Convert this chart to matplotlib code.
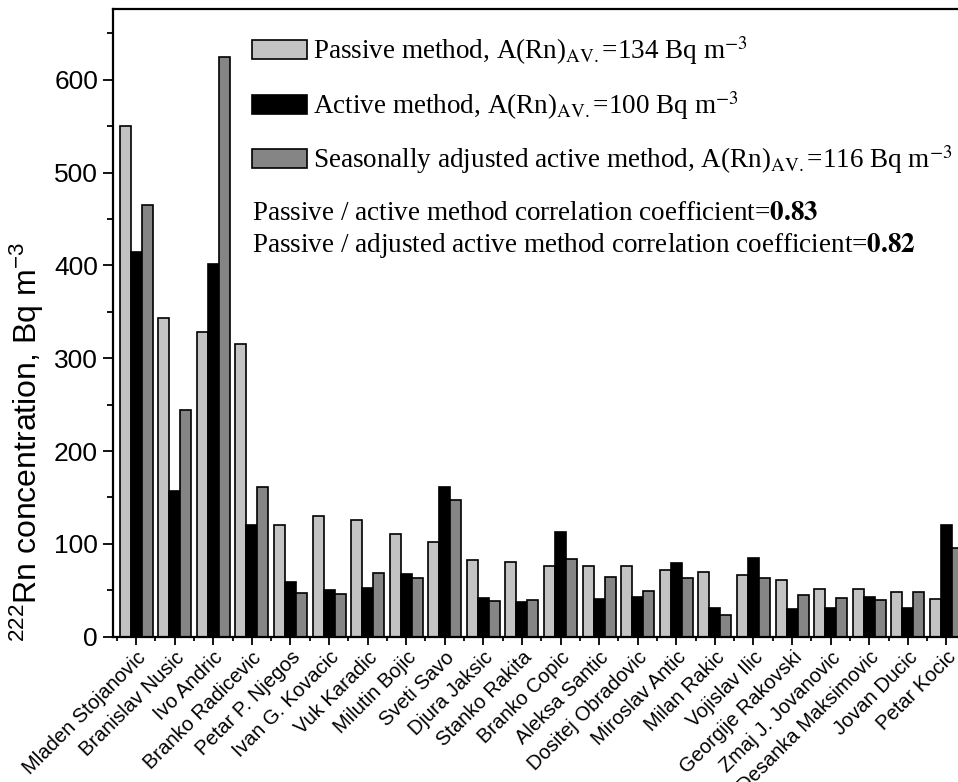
import numpy as np
import matplotlib.pyplot as plt
from matplotlib.ticker import MultipleLocator, FixedLocator
from matplotlib.font_manager import FontProperties

plt.rcParams['font.family'] = 'Liberation Sans'
plt.rcParams['mathtext.fontset'] = 'custom'
plt.rcParams['mathtext.rm'] = 'Liberation Sans'
plt.rcParams['mathtext.it'] = 'Liberation Sans:italic'
plt.rcParams['mathtext.bf'] = 'Liberation Sans:bold'

names = ["Mladen Stojanovic", "Branislav Nusic", "Ivo Andric", "Branko Radicevic",
         "Petar P. Njegos", "Ivan G. Kovacic", "Vuk Karadic", "Milutin Bojic",
         "Sveti Savo", "Djura Jaksic", "Stanko Rakita", "Branko Copic",
         "Aleksa Santic", "Dositej Obradovic", "Miroslav Antic", "Milan Rakic",
         "Vojislav Ilic", "Georgije Rakovski", "Zmaj J. Jovanovic",
         "Desanka Maksimovic", "Jovan Ducic", "Petar Kocic"]
passive = [550, 343, 328, 315, 120, 130, 126, 111, 102, 83, 81,
           76, 76, 76, 72, 70, 66, 61, 51, 51, 48, 41]
active = [415, 157, 402, 120, 59, 50, 52, 68, 161, 42, 37,
          113, 41, 43, 79, 31, 85, 30, 31, 43, 31, 120]
adjusted = [465, 244, 625, 161, 47, 46, 69, 63, 147, 39, 40,
            84, 64, 49, 63, 23, 63, 45, 42, 40, 48, 96]

labels = [r'Passive method, A(Rn)$_{\mathrm{AV.}}$=134 Bq m$^{\mathrm{-3}}$',
          r'Active method, A(Rn)$_{\mathrm{AV.}}$=100 Bq m$^{\mathrm{-3}}$',
          r'Seasonally adjusted active method, A(Rn)$_{\mathrm{AV.}}$=116 Bq m$^{\mathrm{-3}}$']
corr_lines = [r'Passive / active method correlation coefficient=$\mathbf{0.83}$',
              r'Passive / adjusted active method correlation coefficient=$\mathbf{0.82}$']

fig = plt.figure(figsize=(9.58, 7.82), dpi=100)
ax = fig.add_axes([0.1183, 0.1858, 0.8817, 0.8023])

x = np.arange(len(names))
w = 0.285
b1 = ax.bar(x - w, passive, w, color='#c3c3c3', edgecolor='black', linewidth=1.2)
b2 = ax.bar(x, active, w, color='black', edgecolor='black', linewidth=1.2)
b3 = ax.bar(x + w, adjusted, w, color='#858585', edgecolor='black', linewidth=1.2)

ax.set_xlim(-0.59, 21.3)
ax.set_ylim(0, 676)

ax.set_xticks(x)
ax.set_xticklabels(names, rotation=45, ha='right', rotation_mode='anchor', fontsize=14.5)
ax.xaxis.set_minor_locator(FixedLocator(np.arange(-0.5, 22, 1)))
ax.yaxis.set_major_locator(MultipleLocator(100))
ax.yaxis.set_minor_locator(MultipleLocator(50))
ax.tick_params(axis='y', which='major', direction='out', length=7, width=1.3, labelsize=19, pad=4)
ax.tick_params(axis='y', which='minor', direction='out', length=4, width=1.3)
ax.tick_params(axis='x', which='major', direction='out', length=6, width=1.3, pad=2)
ax.tick_params(axis='x', which='minor', direction='out', length=3, width=1.3)

for s in ['left', 'bottom', 'top']:
    ax.spines[s].set_linewidth(1.6)
ax.spines['right'].set_visible(False)

ax.set_ylabel(r'$^{\mathrm{222}}$Rn concentration, Bq m$^{\mathrm{-3}}$', fontsize=23)
ax.yaxis.set_label_coords(-0.08, 0.31)

fp = FontProperties(family='Liberation Serif', size=19.5, math_fontfamily='stix')
ax.legend([b1, b2, b3], labels, loc='upper left', bbox_to_anchor=(0.1646, 0.96),
          frameon=False, prop=fp, handlelength=2.0, handleheight=0.7,
          handletextpad=0.25, labelspacing=0.8, borderpad=0, borderaxespad=0)

ax.text(0.1646, 0.6642, corr_lines[0], transform=ax.transAxes, va='baseline', fontproperties=fp)
ax.text(0.1646, 0.6132, corr_lines[1], transform=ax.transAxes, va='baseline', fontproperties=fp)

fig.savefig('out.png', dpi=100)
